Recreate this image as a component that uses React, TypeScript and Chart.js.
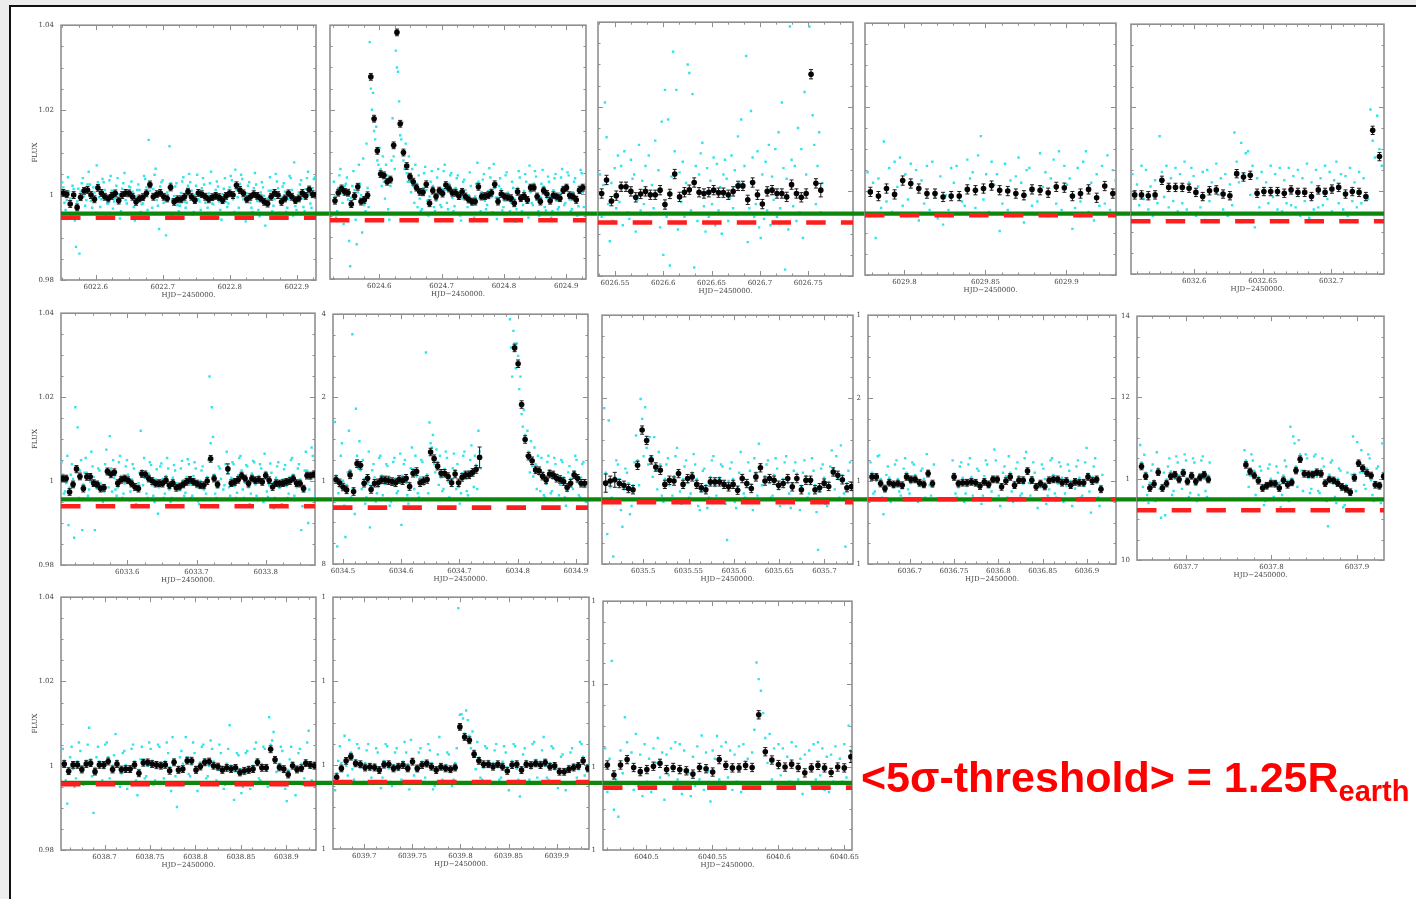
import { useEffect, useRef } from 'react';
import { Chart, registerables } from 'chart.js';

Chart.register(...registerables);

// Relative flux values below are stored in units of 1e-4 around 1.0.
const FLUX_UNIT = 1e-4;

// Observation windows (HJD - 2450000) for the 13 nights, one entry per panel.
const hjdMin = [6022.5482, 6024.5209, 6026.5324, 6029.7757, 6032.5538, 6033.5042, 6034.4828, 6035.4545, 6036.6529, 6037.6427, 6038.6521, 6039.6675, 6040.4671];
const hjdMax = [6022.9288, 6024.9318, 6026.7964, 6029.9306, 6032.7385, 6033.8712, 6034.9209, 6035.7315, 6036.9328, 6037.9316, 6038.9326, 6039.9336, 6040.6557];
const hjdMajor = [
  [6022.6, 6022.7, 6022.8, 6022.9],
  [6024.6, 6024.7, 6024.8, 6024.9],
  [6026.55, 6026.6, 6026.65, 6026.7, 6026.75],
  [6029.8, 6029.85, 6029.9],
  [6032.6, 6032.65, 6032.7],
  [6033.6, 6033.7, 6033.8],
  [6034.5, 6034.6, 6034.7, 6034.8, 6034.9],
  [6035.5, 6035.55, 6035.6, 6035.65, 6035.7],
  [6036.7, 6036.75, 6036.8, 6036.85, 6036.9],
  [6037.7, 6037.8, 6037.9],
  [6038.7, 6038.75, 6038.8, 6038.85, 6038.9],
  [6039.7, 6039.75, 6039.8, 6039.85, 6039.9],
  [6040.5, 6040.55, 6040.6, 6040.65],
];
const fluxTicks = [0.98, 1, 1.02, 1.04];

// Binned light curve cadence: time of the first bin and bin width (days).
const binStart = [6022.5516, 6024.5289, 6026.5362, 6029.779, 6032.5565, 6033.5067, 6034.4881, 6035.4586, 6036.6574, 6037.648, 6038.6557, 6039.6713, 6040.4704];
const binStep = [0.00517, 0.005233, 0.005041, 0.004988, 0.004964, 0.004971, 0.006014, 0.005022, 0.004876, 0.004882, 0.00483, 0.004927, 0.004985];
// Typical 1-sigma error of a bin (1e-4 units); [value, error] entries override it.
const binErr = [8, 8, 11, 11, 10, 8, 9, 10, 8, 8, 8, 8, 10];

// Mean level of each night (green) and its 5-sigma detection threshold (red).
const meanLevel = [0.99563, 0.99546, 0.99475, 0.99463, 0.99451, 0.99565, 0.99554, 0.9956, 0.9956, 0.99494, 0.99594, 0.99577, 0.9962];
const thresholdLevel = [0.99465, 0.99388, 0.99264, 0.99423, 0.99267, 0.99399, 0.99355, 0.99488, 0.9956, 0.99224, 0.99559, 0.99596, 0.99505];

// Binned fluxes (black points), null = no data.
const p1Bins = [5, 2, -21, 0, -29, -5, 10, 12, 0, -10, 17, 5, -4, -8, -2, 4, -13, 0, 5, 4, -4, -16, -8, -5, 4, 25, -4, 2, 5, -4, -8, 18, -16, -10, -10, -4, 8, -4, -12, 5, 2, -4, -10, -5, -2, -5, -12, -2, 4, 0, 23, 12, 4, -10, -4, 2, -2, -8, -16, -20, -4, 5, 0, -16, -8, 4, -4, -12, -8, 5, -2, 13, 2, 1];
const p2Bins = [-15, 4, 14, 6, 4, -23, -4, 18, -17, -13, -2, 278, 179, 103, 48, 45, 30, 35, 116, 383, 167, 99, 67, 42, 30, 16, 6, 5, 24, -21, 9, -5, 9, 2, 22, 14, 4, 4, -4, 6, -5, -12, -17, -17, 18, -5, -4, -2, 4, 24, -17, 1, -5, -7, -9, -21, 6, -9, -4, -13, 16, 16, -5, -17, 9, 1, -15, -2, -5, -9, 10, 16, -2, -5, -13, 10, 16];
const p3Bins = [-5, 27, -23, -10, 11, 11, 0, -14, -6, 0, -8, -8, 3, -31, -6, 41, -13, -2, 4, 21, -2, -5, -2, 3, -3, -3, -8, 0, 13, 13, -20, 21, -8, -30, 0, 3, -5, -5, -13, 16, -5, -14, -5, 277, 19, [3, 16]];
const p4Bins = [-2, -12, 6, -8, 25, 18, 6, -6, -6, -14, -12, -12, 4, 2, 6, 13, 2, 0, -6, -10, 4, 2, -4, 10, 8, -12, -6, 4, -16, 12, -6];
const p5Bins = [-10, -10, -12, -10, 25, 8, 8, 8, 6, -4, -14, 0, 2, -8, -12, 41, 33, 37, -6, -2, -2, -2, -6, 2, -4, -4, -14, 2, -4, 4, 8, -8, -2, -4, -14, 145, 82];
const p6Bins = [6, 6, -26, -8, 29, 11, -18, 10, 10, -5, -8, -18, -16, 23, 16, 21, -5, 3, 6, 2, -6, -14, -18, 17, 16, 6, 0, -6, -5, -6, 2, -10, -5, -16, -13, -8, -2, 3, -2, -6, -10, -10, 0, 53, 6, -8, null, null, [29, 12], -5, -2, 3, 13, 6, -6, 6, 2, 3, -2, 13, 2, -14, -5, -6, -5, -2, 0, 6, -5, -6, -18, 13, 13, 16];
const p7Bins = [3, -5, -15, -22, 14, -26, 41, 37, -6, 6, -21, -6, -5, 2, 2, 0, -2, -5, 3, 0, 6, -14, 18, 22, -5, 0, 3, 69, 53, 35, 18, 18, 10, -5, 16, -5, 8, 14, 14, 20, 27, [56, 25], null, null, null, null, null, null, null, null, null, 319, 281, 183, 99, 59, 48, 26, 24, 11, 2, 16, 14, 6, 3, -2, -16, -6, 14, 6, -6, -6];
const p8Bins = [[-5, 22], [0, 12], [3, 18], -6, -10, -18, -21, 38, 123, 98, 51, 34, 26, -8, 2, 0, 18, -8, 6, 10, -8, -16, -21, -2, -2, -2, -8, -14, -8, -22, 6, -6, -18, 10, 32, 0, 6, 2, -10, -6, 6, -14, 6, -21, 2, 2, -21, -16, -5, -13, 22, 14, 3, -16, -13];
const p9Bins = [10, 10, -6, -18, -4, -8, -6, -10, 10, 4, 4, -4, -8, 18, -6, null, null, null, null, 10, -6, -4, -4, -2, -4, -12, -2, -8, 4, 4, -14, 0, 10, -10, 2, 2, 24, 2, -14, -6, -13, 2, 4, 4, -4, 0, -10, -2, -4, -4, 10, 0, 4, -20];
const p10Bins = [30, 6, -23, -13, 16, -23, -12, 6, 10, -2, 14, -7, 7, -7, 3, 10, -2, null, null, null, null, null, null, null, null, 34, 18, 8, -5, -23, -17, -12, -12, -23, -4, -15, -9, 20, 48, 12, 11, 10, 16, 12, -11, -2, -4, -11, -20, -25, -33, 2, 38, 26, 14, 8, -15, -17, 6];
const p11Bins = [4, -13, 2, 2, -9, 4, 6, -14, 2, 2, 10, -9, 4, -9, -8, -8, 2, -18, 7, 8, 4, 2, 0, 2, -12, 8, -10, -8, 12, 12, -10, -2, 8, 10, 0, -2, -10, -5, -8, -5, -16, -12, -10, -8, 8, -5, -5, 39, 14, -4, -8, -21, 0, -9, -6, 6, 2, 0];
const p12Bins = [-29, -8, 10, 20, 4, 2, -6, -4, -6, -12, 1, 2, -8, -4, 0, -8, 8, -8, 0, 4, -4, -12, -4, -8, -10, -6, 91, 67, 59, 26, 10, 2, 2, -4, 2, -4, -14, 0, 2, -12, 2, 0, 4, 0, 6, -4, -2, -16, -16, -10, -6, -2, 10, -8];
const p13Bins = [5, -19, 5, 18, -1, -11, -6, 2, 9, -6, -1, -6, -9, -17, -1, -4, -12, 18, 4, -2, -2, 4, -1, 126, 37, 17, 6, 0, 7, -1, -14, -2, 4, -2, -13, 0, -2, [25, 14]];

// Unbinned exposures (cyan), grouped by the bin they fall in.
const p1Raw = [[30, -18], [-35, 42], [8, -45], [22, -60], [-122, 15], [-138, 28], [40, -25], [-12, 55], [25, -30], [18, -42], [70, -5], [-28, 38], [30, -50], [-20, 35], [45, -32], [-15, 22], [40, -55], [-38, 28], [52, -20], [-45, 18], [32, -28], [-60, 12], [25, -40], [-22, 45], [38, -35], [130, 20], [-30, 48], [62, -25], [-80, 30], [35, -42], [-95, 18], [115, -10], [-48, 20], [28, -38], [-25, 32], [42, -30], [-18, 50], [30, -45], [-40, 22], [48, -15], [-35, 40], [25, -52], [-30, 28], [55, -22], [-48, 32], [20, -35], [-58, 15], [40, -28], [-20, 45], [35, -40], [60, -5], [-30, 48], [38, -45], [-62, 22], [30, -30], [-40, 52], [25, -35], [-50, 30], [18, -72], [-45, 10], [42, -38], [-25, 50], [32, -42], [-55, 20], [28, -40], [-30, 45], [40, -48], [77, -35], [-42, 25], [35, -28], [-38, 40], [55, -20], [-30, 38], [42, -25]];
const p2Raw = [[30, -55], [-40, 45], [60, -20], [-70, 25], [40, -110], [-170, 20], [55, -60], [-118, 70], [25, -90], [85, -40], [120, -30], [360, 200], [240, 130], [160, 70], [110, 20], [90, -10], [70, -35], [-60, 80], [180, 60], [340, 290], [220, 130], [170, 60], [120, 30], [90, 5], [60, -20], [70, -30], [45, -40], [-35, 50], [65, -15], [-50, 30], [55, -30], [-40, 40], [60, -25], [-30, 55], [70, -20], [-35, 45], [50, -40], [-28, 38], [45, -50], [-62, 30], [35, -45], [-30, 52], [20, -60], [-55, 25], [75, -10], [-40, 35], [48, -35], [-25, 62], [40, -42], [72, -8], [-58, 20], [38, -38], [-30, 45], [52, -45], [-40, 30], [15, -65], [-35, 55], [40, -40], [-25, 48], [30, -55], [68, -20], [-25, 55], [42, -40], [-50, 25], [58, -30], [-38, 42], [30, -55], [-40, 38], [48, -35], [-30, 40], [60, -25], [-20, 52], [45, -40], [-35, 30], [38, -50], [-28, 58], [50, -30]];
const p3Raw = [[40, -60, 15], [210, 128, -30], [-118, 20, -70], [55, -40, 85], [-25, 60, -80], [95, 10, -50], [-65, 75, 30], [40, -95, -20], [110, -45, 25], [-30, 60, -75], [85, -55, 15], [-40, 120, -10], [50, -85, 165], [-150, 240, -60], [170, -175, 35], [330, 95, 240], [-90, 45, -25], [70, -60, 20], [300, 280, -45], [230, -180, 60], [-70, 40, 90], [115, -35, -95], [55, -60, 25], [-30, 80, -80], [65, -45, 10], [-100, 40, 75], [30, -70, -15], [85, -40, 50], [-55, 130, 20], [170, -75, 60], [320, -120, -40], [190, 80, -60], [-30, 95, -85], [-110, 40, -65], [70, -45, 110], [-80, 35, -20], [100, -60, 140], [-40, 210, 55], [-185, 30, -90], [390, 75, -35], [60, -70, 150], [-50, 100, -110], [235, 40, -75], [390, 280, 180], [110, -30, 60], [140, -50, 20]];
const p4Raw = [[45, -60, 20], [-112, 30, -40], [118, -25, 55], [-50, 70, 10], [80, -35, 40], [-20, 65, -55], [50, -70, 25], [-30, 60, -45], [70, -15, -65], [35, -80, -10], [-45, 55, 20], [60, -55, -25], [-35, 75, 30], [45, -40, 85], [131, -20, 40], [-50, 70, 15], [40, -95, -30], [65, -45, 25], [-60, 35, 80], [20, -75, 50], [55, -35, -55], [-25, 90, 10], [45, -60, 30], [75, -30, 95], [-45, 60, 15], [30, -90, -40], [55, -25, 70], [95, -50, 20], [-70, 40, -35], [60, -30, 85], [-45, 50, 25]];
const p5Raw = [[40, -55, 15], [-35, 60, -20], [50, -45, 10], [-60, 25, -30], [131, 45, -15], [60, -40, 30], [-25, 55, -50], [40, -30, 70], [-45, 20, 55], [35, -60, 10], [-40, 45, -70], [50, -25, 20], [-55, 65, -10], [30, -45, 40], [-60, 15, -35], [140, 70, 20], [115, 40, 90], [95, -10, 60], [-88, 30, -40], [45, -55, 20], [-30, 60, -15], [40, -45, 55], [-50, 25, -30], [55, -35, 35], [-40, 50, -60], [30, -25, 65], [-65, 20, -45], [50, -40, 30], [-35, 60, -20], [45, -50, 25], [70, -30, 40], [-45, 35, -60], [55, -25, 20], [-40, 45, -30], [30, -55, -20], [195, 120, 80], [180, 100, 60]];
const p6Raw = [[45, -30], [-25, 60], [-105, 15], [40, -135], [176, 128], [-40, 50], [-117, 20], [55, -35], [-20, 70], [35, -117], [-45, 30], [25, -60], [-50, 40], [75, -15], [107, -25], [50, -20], [-35, 45], [60, -40], [-30, 35], [50, -45], [-25, 40], [30, -55], [-60, 20], [120, -10], [55, -30], [-40, 45], [38, -35], [-50, 28], [-78, 35], [42, -40], [-30, 55], [30, -50], [-40, 38], [25, -58], [-45, 30], [48, -35], [-28, 52], [40, -40], [-35, 45], [30, -48], [-55, 25], [35, -42], [-30, 50], [249, 176], [105, -30], [-40, 35], [30, -45], [-20, 40], [70, -15], [-35, 45], [40, -40], [-28, 55], [60, -20], [-40, 38], [35, -55], [-30, 48], [45, -35], [-45, 40], [30, -50], [65, -25], [-38, 42], [20, -65], [-40, 35], [45, -45], [-55, 28], [38, -40], [-30, 50], [55, -35], [-45, 30], [40, -117], [-60, 25], [70, -100], [-20, 80], [60, -35]];
const p7Raw = [[141, -158], [-30, 60], [90, -60], [-135, 20], [120, -40], [352, -80], [173, 30], [95, -20], [50, -55], [-40, 70], [-112, 25], [40, -50], [-30, 55], [60, -35], [-45, 40], [35, -60], [-50, 45], [55, -30], [-25, 65], [-106, 40], [50, -35], [-55, 30], [80, -20], [60, -30], [-40, 50], [45, -45], [308, -30], [140, 80], [110, 20], [75, -10], [60, -25], [-20, 70], [55, -40], [-45, 30], [65, -20], [40, -55], [-30, 60], [70, -25], [-35, 50], [85, -15], [60, -20], [120, 30], [], [], [], [], [], [], [], [], [388, 250], [360, 270], [330, 220], [250, 130], [170, 60], [120, 20], [95, 10], [80, -20], [60, -25], [55, -35], [-40, 45], [60, -30], [-25, 55], [40, -45], [-35, 50], [45, -40], [-60, 20], [35, -45], [-20, 60], [50, -35], [-40, 40], [45, -50]];
const p8Raw = [[176, -128], [146, -40], [-182, 50], [40, -70], [-110, 30], [20, -80], [-60, 45], [110, -10], [198, 60], [178, 40], [106, 10], [106, -20], [70, -35], [-50, 40], [55, -45], [-35, 60], [80, -25], [-55, 35], [50, -40], [-30, 65], [40, -60], [-70, 25], [30, -65], [-40, 50], [60, -35], [-45, 40], [35, -55], [-142, 30], [45, -50], [-65, 20], [70, -30], [-40, 45], [25, -70], [55, -35], [90, -10], [-45, 40], [50, -40], [-35, 55], [30, -60], [-50, 45], [60, -30], [-65, 25], [45, -45], [-70, 20], [50, -40], [-30, 55], [25, -75], [-166, 30], [40, -55], [-60, 35], [74, -20], [60, -40], [86, -30], [-158, 25], [45, -50]];
const p9Raw = [[45, -30], [-25, 60], [62, -40], [-80, 15], [35, -50], [-45, 40], [50, -25], [-35, 30], [55, -20], [-30, 45], [40, -45], [-50, 25], [30, -40], [65, -10], [-35, 40], [], [], [], [], [50, -30], [-40, 35], [45, -50], [-30, 40], [55, -35], [-45, 30], [25, -55], [-35, 50], [40, -45], [-25, 76], [50, -35], [-60, 20], [35, -40], [60, -25], [-50, 30], [45, -35], [-30, 55], [70, -5], [-35, 45], [20, -65], [-45, 40], [30, -55], [-35, 50], [55, -30], [-40, 45], [35, -50], [-30, 40], [25, -60], [-45, 35], [50, -40], [-35, 45], [80, -25], [-76, 35], [55, -40], [-60, 15]];
const p10Raw = [[83, -20], [59, -40], [-60, 20], [35, -55], [65, -25], [-96, 15], [-90, 30], [50, -40], [-30, 55], [40, -50], [-25, 60], [45, -45], [-35, 50], [40, -55], [-40, 45], [55, -30], [-45, 40], [], [], [], [], [], [], [], [], [70, 10], [-20, 60], [45, -40], [-50, 30], [20, -65], [-55, 25], [35, -50], [-45, 30], [15, -70], [-40, 45], [30, -55], [128, 104], [87, -20], [95, 20], [-30, 60], [50, -35], [-25, 55], [60, -30], [-35, 50], [30, -55], [-117, 40], [45, -45], [-60, 25], [20, -70], [-65, 15], [-80, 10], [104, -30], [90, 15], [70, -15], [-25, 60], [50, -40], [-55, 25], [30, -60], [87, -30]];
const p11Raw = [[40, -35], [-90, 20], [45, -50], [-30, 55], [35, -45], [-40, 50], [90, -25], [-112, 20], [45, -40], [-35, 50], [55, -30], [-45, 25], [75, -40], [-50, 30], [35, -55], [-40, 40], [50, -35], [-70, 15], [45, -30], [-25, 55], [40, -45], [-35, 50], [45, -40], [-30, 55], [30, -60], [68, -25], [-98, 20], [35, -45], [68, -20], [-25, 55], [30, -60], [-40, 45], [50, -30], [-25, 60], [40, -45], [-35, 50], [30, -55], [-45, 40], [96, -40], [-81, 30], [25, -65], [-50, 30], [35, -55], [-40, 40], [55, -30], [-35, 45], [40, -50], [115, 60], [80, -15], [-40, 45], [35, -55], [-84, 15], [45, -40], [-70, 30], [40, -45], [-30, 55], [83, -35], [-40, 45]];
const p12Raw = [[-60, 10], [45, -40], [70, -25], [60, -10], [-35, 50], [40, -45], [-40, 35], [50, -30], [-45, 40], [30, -55], [-30, 50], [45, -40], [-50, 30], [40, -45], [-35, 55], [30, -58], [60, -25], [-45, 30], [40, -40], [-30, 50], [35, -58], [-50, 25], [67, -35], [-40, 30], [25, -50], [-35, 40], [374, 121], [111, 130], [107, 40], [80, -10], [55, -30], [-35, 45], [40, -40], [-45, 35], [50, -35], [-30, 45], [30, -60], [-40, 50], [45, -35], [-75, 25], [40, -40], [-35, 50], [55, -30], [-40, 35], [67, -30], [-35, 45], [40, -45], [-55, 20], [25, -60], [-45, 30], [40, -40], [-30, 55], [50, -25], [-40, 35]];
const p13Raw = [[45, -60, 20], [256, -103, -30], [-120, 40, -15], [120, 60, -40], [35, -55, 80], [-45, 30, -70], [55, -35, 20], [-60, 45, 10], [70, -25, 35], [-79, 30, -20], [45, -50, 60], [-30, 55, -65], [40, -40, -15], [-70, 25, -45], [50, -30, 76], [-55, 35, -10], [-83, 40, 20], [75, -30, 50], [-45, 60, -25], [40, -55, 30], [-35, 50, -60], [55, -40, 20], [-50, 35, 90], [252, 212, 184], [130, 70, 10], [80, -30, 45], [-40, 55, -20], [45, -50, 25], [-35, 60, -45], [50, -30, 20], [-65, 30, -40], [40, -45, 55], [-30, 60, -20], [45, -55, 25], [-60, 30, -35], [50, -40, 20], [-35, 55, -25], [100, 40, -30]];

// Exposures taken mid-bin on the densely sampled nights (one per bin).
const p1Mid = [18, -12, -8, 14, -15, 8, -3, 25, -14, 6, 30, -10, 12, -20, 10, -8, 2, 15, -12, 20, 8, -4, 12, -20, 18, 10, 14, -12, 20, -18, 6, 28, -2, -24, 5, -16, 22, 10, 0, -10, 16, -18, 4, -20, 12, -15, 2, -16, 18, -10, 12, 26, -10, 4, -18, 16, -14, 6, -2, -8, 10, -10, 16, -4, 8, -10, 12, -26, 6, -8, 14, 0, 16, -12];
const p2Mid = [-5, 15, 2, 20, -12, -8, 10, 5, -2, -25, 15, 250, 150, 80, 60, 30, 45, 20, 90, 300, 140, 80, 50, 30, 20, 25, -10, 15, 10, -5, 20, -15, 0, 12, 10, 25, -8, 15, 6, -10, 10, -2, -25, -5, 30, 5, -15, 8, -6, 15, -8, 12, -15, 4, -20, -10, 15, -2, 8, -20, 5, 25, -12, -6, 18, -8, -5, 10, -15, 2, 18, 8, -12, 5, -4, 20, 5];
const p6Mid = [15, -5, -15, 5, 20, 25, -8, 20, -2, 10, -18, -5, -25, 15, 30, 8, -15, 12, -6, 15, 4, -20, -5, 25, 8, 18, -10, 4, -15, 5, 12, -20, 8, -5, -22, 2, 10, -8, 12, -15, 0, -20, 10, 90, 15, -15, 5, -10, 20, 8, -12, 14, 25, -4, -15, 18, -8, 12, 5, 22, -10, -5, 8, -16, 4, -12, 10, 15, -15, 4, -25, 25, 5, 10];
const p7Mid = [12, -15, 0, -10, 25, -18, 60, 25, 4, -8, -12, 8, -15, 12, -8, 10, -10, 5, -5, 12, -5, -5, 28, 10, 8, -10, 15, 90, 40, 45, 8, 28, -2, 5, 25, -15, 18, 5, 22, 12, 38, 70, null, null, null, null, null, null, null, null, 320, 330, 300, 160, 110, 70, 35, 40, 15, 20, -8, 25, 5, 15, -10, 8, -25, 5, 22, -4, 8, -15];
const p8Mid = [20, -15, 10, 5, -20, -5, -10, 50, 150, 80, 60, 25, 40, 5, -10, 12, 25, 5, -5, 20, 5, -25, -10, 10, -12, 8, -15, 0, 5, -15, 15, -10, -8, 20, 40, 12, -5, 15, -20, 5, -5, -5, 18, -12, 12, -8, -10, -25, 8, -2, 30, 5, 15, -5, -20];
const p9Mid = [20, 0, 5, -25, 8, -15, 5, -18, 20, -5, 15, -12, 5, 25, -14, null, null, null, null, 18, -15, 8, -12, 10, -10, -5, 12, -15, 10, -4, -8, 12, 20, -2, 12, -6, 30, 10, -8, -15, 5, -20, 15, -6, 8, -12, 0, -18, 8, -12, 18, 10, -5, -12];
const p10Mid = [40, 15, -10, -5, 25, -15, -2, 18, 0, 8, 22, 2, 15, -15, 12, 0, 8, null, null, null, null, null, null, null, null, 45, 8, 20, 5, -15, -25, 0, -20, -10, 8, -5, 0, 30, 60, 20, 2, 18, 5, 22, -5, 10, -12, 0, -28, -15, -40, 12, 45, 15, 25, -4, -8, -25, 15];
const p11Mid = [12, -5, -8, 10, -2, 12, 15, -5, 10, -6, 20, 0, 12, -18, 2, -15, 10, -10, 15, 0, 12, -6, 8, 10, -4, 15, -2, 5, 20, 2, -2, 8, 15, 0, 10, -10, -2, 5, 0, -14, -8, -20, -2, 0, 15, 4, -12, 50, 20, 5, -15, -10, 8, -2, 5, 12, -5, 8];
const p12Mid = [-20, 5, -2, 30, 12, -6, 5, -12, 2, -5, 10, -8, 0, -12, 8, 2, 15, -15, 8, -4, 5, -5, -10, 0, -15, 5, 120, 75, 70, 35, 18, -6, 10, 5, -5, 8, -5, 10, -8, -5, 10, -8, 12, 8, -2, 5, -10, -8, -22, -2, 2, -10, 20, 0];

const binSets = [p1Bins, p2Bins, p3Bins, p4Bins, p5Bins, p6Bins, p7Bins, p8Bins, p9Bins, p10Bins, p11Bins, p12Bins, p13Bins];
const rawSets = [p1Raw, p2Raw, p3Raw, p4Raw, p5Raw, p6Raw, p7Raw, p8Raw, p9Raw, p10Raw, p11Raw, p12Raw, p13Raw];
const midSets = [p1Mid, p2Mid, null, null, null, p6Mid, p7Mid, p8Mid, p9Mid, p10Mid, p11Mid, p12Mid, null];

// Page layout of each panel's plotting box, green-line run-on to the next
// panel, and minor tick density (ticks per day, ticks per major step).
const PANELS = [
  { left: 61, top: 24, right: 316, bottom: 280, ext: 14, minorPerDay: 40, perMajor: 4, first: true, yText: null },
  { left: 330, top: 24, right: 586, bottom: 279, ext: 12, minorPerDay: 40, perMajor: 4, first: false, yText: ['', '', '', ''] },
  { left: 598, top: 21, right: 853, bottom: 276, ext: 12, minorPerDay: 60, perMajor: 3, first: false, yText: ['', '', '', ''] },
  { left: 865, top: 22, right: 1116, bottom: 275, ext: 15, minorPerDay: 100, perMajor: 5, first: false, yText: ['', '', '', ''] },
  { left: 1131, top: 23, right: 1384, bottom: 274, ext: 0, minorPerDay: 120, perMajor: 6, first: false, yText: ['', '', '', ''] },
  { left: 61, top: 312, right: 315, bottom: 565, ext: 18, minorPerDay: 40, perMajor: 4, first: true, yText: null },
  { left: 333, top: 313, right: 588, bottom: 564, ext: 14, minorPerDay: 50, perMajor: 5, first: false, yText: ['8', '1', '2', '4'] },
  { left: 602, top: 314, right: 853, bottom: 564, ext: 15, minorPerDay: 80, perMajor: 4, first: false, yText: ['', '', '', ''] },
  { left: 868, top: 314, right: 1116, bottom: 564, ext: 21, minorPerDay: 80, perMajor: 4, first: false, yText: ['1', '1', '2', '1'] },
  { left: 1137, top: 315, right: 1384, bottom: 560, ext: 0, minorPerDay: 50, perMajor: 5, first: false, yText: ['10', '1', '12', '14'] },
  { left: 61, top: 596, right: 316, bottom: 850, ext: 17, minorPerDay: 80, perMajor: 4, first: true, yText: null },
  { left: 333, top: 596, right: 589, bottom: 849, ext: 14, minorPerDay: 80, perMajor: 4, first: false, yText: ['1', '1', '1', '1'] },
  { left: 603, top: 600, right: 852, bottom: 850, ext: 0, minorPerDay: 100, perMajor: 5, first: false, yText: ['1', '1', '1', '1'] },
];

const AXIS_W = 50;
const AXIS_H = 25;
const PAD_T = 10;
const LABEL_FONT = { family: '"DejaVu Serif", "Liberation Serif", serif', size: 7 };
const LABEL_COLOR = '#444444';
const FRAME_COLOR = '#8f8f8f';

const fmt = (v: number) => String(Number(Number(v).toFixed(3)));

// Boxed frame with inward tick marks on all four sides.
const frameTicks = {
  id: 'frameTicks',
  beforeDatasetsDraw(chart: any, _args: any, opts: any) {
    const { ctx, chartArea: a, scales } = chart;
    const xs = scales.x;
    const ys = scales.y;
    ctx.save();
    ctx.strokeStyle = FRAME_COLOR;
    ctx.lineWidth = 1;
    ctx.beginPath();
    const k0 = Math.ceil(xs.min * opts.minorPerDay - 1e-6);
    const k1 = Math.floor(xs.max * opts.minorPerDay + 1e-6);
    for (let k = k0; k <= k1; k++) {
      const px = Math.round(xs.getPixelForValue(k / opts.minorPerDay)) + 0.5;
      const len = k % opts.perMajor === 0 ? 5 : 2.5;
      ctx.moveTo(px, a.bottom);
      ctx.lineTo(px, a.bottom - len);
      ctx.moveTo(px, a.top);
      ctx.lineTo(px, a.top + len);
    }
    for (let k = 196; k <= 208; k++) {
      const py = Math.round(ys.getPixelForValue(k / 200)) + 0.5;
      const len = k % 4 === 0 ? 5 : 2.5;
      ctx.moveTo(a.left, py);
      ctx.lineTo(a.left + len, py);
      ctx.moveTo(a.right, py);
      ctx.lineTo(a.right - len, py);
    }
    ctx.stroke();
    ctx.lineWidth = 1.6;
    ctx.strokeRect(a.left, a.top, a.right - a.left, a.bottom - a.top);
    ctx.restore();
  },
};

function exposuresFor(i: number) {
  const raw = rawSets[i];
  const mid = midSets[i];
  return raw.map((slot: number[], j: number) => {
    const m = mid ? mid[j] : null;
    if (m === null || m === undefined) return slot;
    if (slot.length === 2) return [slot[0], m, slot[1]];
    return [...slot, m];
  });
}

function buildDatasets(i: number) {
  const start = binStart[i];
  const step = binStep[i];
  const bins = binSets[i];
  const binned: any[] = [];
  const bars: any[] = [];
  bins.forEach((b: any, j: number) => {
    if (b === null) return;
    const v = Array.isArray(b) ? b[0] : b;
    const e = Array.isArray(b) ? b[1] : binErr[i];
    const x = start + j * step;
    const y = 1 + v * FLUX_UNIT;
    binned.push({ x, y });
    bars.push({ x, y: y - e * FLUX_UNIT }, { x, y: y + e * FLUX_UNIT }, { x, y: null });
  });
  const exposures: any[] = [];
  exposuresFor(i).forEach((slot: number[], j: number) => {
    const n = slot.length;
    slot.forEach((v, m) => {
      exposures.push({ x: start + (j + (m + 0.5) / n - 0.5) * step, y: 1 + v * FLUX_UNIT });
    });
  });
  const span = hjdMax[i] - hjdMin[i];
  const box = PANELS[i];
  return [
    {
      type: 'line',
      data: [{ x: hjdMin[i], y: thresholdLevel[i] }, { x: hjdMax[i], y: thresholdLevel[i] }],
      borderColor: '#ff1e1e',
      borderWidth: 4.6,
      borderDash: [19.5, 15.2],
      borderCapStyle: 'butt',
      pointRadius: 0,
      order: 0,
    },
    {
      type: 'line',
      data: [{ x: hjdMin[i], y: meanLevel[i] }, { x: hjdMax[i] + span, y: meanLevel[i] }],
      borderColor: '#0b870b',
      borderWidth: 4.3,
      pointRadius: 0,
      clip: { left: 0, top: 0, right: box.ext, bottom: 0 },
      order: 1,
    },
    {
      type: 'scatter',
      data: binned,
      pointRadius: 2.8,
      pointStyle: 'circle',
      pointBackgroundColor: '#050505',
      pointBorderWidth: 0,
      order: 2,
    },
    {
      type: 'line',
      data: bars,
      spanGaps: false,
      borderColor: '#1a1a1a',
      borderWidth: 1,
      pointStyle: 'line',
      pointRadius: 2,
      pointBorderColor: '#1a1a1a',
      pointBorderWidth: 1,
      order: 3,
    },
    {
      type: 'scatter',
      data: exposures,
      pointStyle: 'rect',
      pointRadius: 1.7,
      pointBackgroundColor: 'rgb(48, 228, 236)',
      pointBorderWidth: 0,
      order: 4,
    },
  ];
}

function Panel({ index }: { index: number }) {
  const ref = useRef<HTMLCanvasElement>(null);
  const box = PANELS[index];
  const padR = Math.max(box.ext, 18);
  const w = AXIS_W + (box.right - box.left) + padR;
  const h = PAD_T + (box.bottom - box.top) + AXIS_H;

  useEffect(() => {
    const canvas = ref.current;
    if (!canvas) return;
    const chart = new Chart(canvas, {
      type: 'scatter',
      data: { datasets: buildDatasets(index) as any },
      plugins: [frameTicks],
      options: {
        animation: false,
        responsive: false,
        maintainAspectRatio: false,
        devicePixelRatio: 1,
        events: [],
        layout: { padding: { left: 0, right: padR, top: PAD_T, bottom: 0 } },
        plugins: {
          legend: { display: false },
          tooltip: { enabled: false },
          frameTicks: { minorPerDay: box.minorPerDay, perMajor: box.perMajor },
        } as any,
        scales: {
          x: {
            type: 'linear',
            min: hjdMin[index],
            max: hjdMax[index],
            afterFit: (s: any) => { s.height = AXIS_H; },
            afterBuildTicks: (s: any) => { s.ticks = hjdMajor[index].map((v) => ({ value: v })); },
            grid: { display: false, drawTicks: false, tickLength: 0 },
            border: { display: false },
            ticks: {
              font: LABEL_FONT,
              color: LABEL_COLOR,
              padding: 3,
              maxRotation: 0,
              autoSkip: false,
              callback: (v: any) => fmt(v),
            },
            title: {
              display: true,
              text: 'HJD\u22122450000.',
              font: LABEL_FONT,
              color: LABEL_COLOR,
              padding: { top: 0, bottom: 5.8 },
            },
          },
          y: {
            type: 'linear',
            min: 0.98,
            max: 1.04,
            afterFit: (s: any) => { s.width = AXIS_W; },
            afterBuildTicks: (s: any) => { s.ticks = fluxTicks.map((v) => ({ value: v })); },
            grid: { display: false, drawTicks: false, tickLength: 0 },
            border: { display: false },
            ticks: {
              font: LABEL_FONT,
              color: LABEL_COLOR,
              padding: 7,
              autoSkip: false,
              callback: (v: any, k: number) => (box.yText ? box.yText[k] : fmt(v)),
            },
            title: {
              display: box.first,
              text: 'FLUX',
              font: LABEL_FONT,
              color: LABEL_COLOR,
              padding: { top: 19.8, bottom: 0 },
            },
          },
        },
      } as any,
    });
    return () => chart.destroy();
  }, [index]);

  return (
    <canvas
      ref={ref}
      width={w}
      height={h}
      style={{ position: 'absolute', left: box.left - AXIS_W, top: box.top - PAD_T, width: w, height: h }}
    />
  );
}

export default function App() {
  return (
    <div style={{ position: 'absolute', left: 0, top: 0, width: 1416, height: 899, background: '#ededed', overflow: 'hidden' }}>
      <div
        style={{
          position: 'absolute',
          left: 9,
          top: 5,
          width: 1407,
          height: 894,
          background: '#ffffff',
          borderTop: '2px solid #111',
          borderLeft: '2px solid #111',
          boxSizing: 'border-box',
        }}
      />
      {PANELS.map((_, i) => (
        <Panel key={i} index={i} />
      ))}
      <div
        style={{
          position: 'absolute',
          left: 861,
          top: 756,
          fontFamily: '"Liberation Sans", Arial, sans-serif',
          fontWeight: 'bold',
          fontSize: 43,
          lineHeight: '43px',
          color: '#ff0000',
          whiteSpace: 'nowrap',
        }}
      >
        {'<5\u03c3-threshold> = 1.25R'}
        <span style={{ fontSize: 29, verticalAlign: '-9px' }}>earth</span>
      </div>
    </div>
  );
}
